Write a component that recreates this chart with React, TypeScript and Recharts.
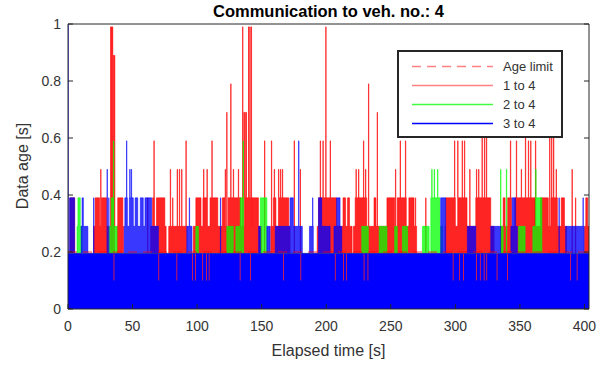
import React from 'react';
import { ComposedChart, Area, Line, XAxis, YAxis } from 'recharts';

const END = 403.5;
const X_TICKS = [0, 50, 100, 150, 200, 250, 300, 350, 400];
const Y_TICKS = [0, 0.2, 0.4, 0.6, 0.8, 1];
const AGE_LIMIT = 0.2;
const BASE = 0.195;

// 1 to 4: single spikes [time, age] and dense stretches [from, to, age]
const redSpikes = [
  [2.8, 0.39], [4.9, 0.39], [21.6, 0.39], [25.3, 0.49], [27.5, 0.39], [33, 0.99], [33.7, 0.99], [34.4, 0.99],
  [35.3, 0.89], [36, 0.89], [38.5, 0.39], [61.6, 0.39], [66.5, 0.59], [69.4, 0.39], [79.2, 0.49], [81, 0.39],
  [84.5, 0.49], [86.2, 0.49], [88, 0.49], [91.3, 0.59], [99.8, 0.39], [105, 0.49], [107.6, 0.49], [111.4, 0.59],
  [121.7, 0.49], [122.9, 0.69], [126, 0.79], [128, 0.49], [131.9, 0.49], [135.2, 0.99], [136.2, 0.69],
  [137, 0.69], [138, 0.69], [139.8, 0.99], [140.8, 0.99], [141.9, 0.99], [152.2, 0.59], [157.5, 0.59],
  [159.7, 0.49], [163, 0.49], [164.5, 0.49], [166, 0.49], [175.1, 0.59], [179.8, 0.49], [195.3, 0.59],
  [197.4, 0.59], [199.6, 0.99], [203, 0.59], [223, 0.49], [225, 0.49], [228.8, 0.59], [230.4, 0.49],
  [232.7, 0.79], [239.4, 0.69], [253.6, 0.49], [257.2, 0.59], [261.3, 0.59], [269, 0.39], [277, 0.39],
  [299.3, 0.59], [301.8, 0.59], [305.2, 0.59], [307, 0.59], [311.1, 0.49], [316.3, 0.49], [318, 0.49],
  [320.6, 0.69], [322.5, 0.69], [324, 0.69], [342.6, 0.59], [347.2, 0.59], [351, 0.49], [354.2, 0.69],
  [356.5, 0.59], [358.3, 0.59], [362, 0.59], [373, 0.69], [374.5, 0.69], [376, 0.69], [378, 0.49],
  [390.3, 0.49], [393, 0.39],
];
const redBlocks = [
  [1.5, 5, 0.39], [19.8, 31.6, 0.29], [21, 24.5, 0.39], [26, 30, 0.39], [38, 43, 0.29], [38.5, 42.5, 0.39],
  [64, 76, 0.29], [65.5, 67, 0.39], [68.5, 75, 0.39], [78, 92, 0.29], [97, 118, 0.29], [99, 103, 0.39],
  [104.5, 108, 0.39], [110, 116, 0.39], [118, 150, 0.29], [119.5, 122, 0.39], [124, 134, 0.39],
  [137, 142, 0.39], [142.4, 147.5, 0.39], [157, 172, 0.29], [159, 161, 0.39], [163, 171, 0.39],
  [193, 220, 0.29], [194, 208, 0.39], [213, 215, 0.39], [216.5, 218, 0.39], [221, 247, 0.29],
  [222.4, 231.4, 0.39], [237, 238.5, 0.39], [247, 270, 0.29], [247, 253, 0.39], [255, 262, 0.39],
  [264, 268, 0.39], [292, 330, 0.29], [292.5, 300, 0.39], [302, 309, 0.39], [315.8, 327.4, 0.39],
  [335, 386, 0.29], [337, 338.5, 0.39], [340.5, 343.5, 0.39], [346, 361.7, 0.39], [366, 372, 0.39],
  [374, 379, 0.39], [382, 384.5, 0.39], [400, 403.5, 0.29], [401, 402.5, 0.39],
];

// 2 to 4
const greenSpikes = [
  [35.2, 0.59], [135.6, 0.59], [281.7, 0.49], [283.6, 0.49], [286.2, 0.49], [335, 0.49], [339.5, 0.49],
  [362.2, 0.49],
];
const greenBlocks = [
  [7, 11, 0.29], [7.7, 9.5, 0.39], [31.6, 38, 0.29], [33.5, 35, 0.39], [99, 101, 0.29], [123, 128, 0.29],
  [130, 136, 0.29], [133.4, 136, 0.39], [149, 154, 0.39], [227.5, 232.6, 0.29], [241, 247, 0.29],
  [253, 255, 0.29], [259, 263, 0.29], [274.5, 279.7, 0.29], [281, 288, 0.39], [282, 290, 0.29],
  [335, 337, 0.29], [349, 354, 0.29], [360, 367, 0.29], [362, 367, 0.39],
];

// 3 to 4
const blueSpikes = [
  [0, 1], [19.8, 0.39], [30.2, 0.49], [31.5, 0.39], [45.3, 0.59], [47.8, 0.49], [49, 0.49], [93.9, 0.39],
  [118, 0.39], [178.6, 0.59], [189.4, 0.39], [380.2, 0.39], [398.8, 0.39],
];
const blueBlocks = [
  [1.2, 5.1, 0.39], [10.2, 15.4, 0.29], [10.9, 11.9, 0.39], [43.5, 70, 0.29], [44, 46, 0.39],
  [47.5, 50.6, 0.39], [52, 54, 0.39], [56, 58.3, 0.39], [59.6, 64.8, 0.39], [92, 96, 0.29],
  [147.6, 149, 0.29], [154, 156.5, 0.29], [160.5, 181.5, 0.29], [172, 174.5, 0.39], [187, 190, 0.29],
  [194, 203, 0.29], [194, 196.5, 0.39], [206, 212, 0.29], [208, 210.7, 0.39], [288.6, 292.5, 0.39],
  [309.3, 315.8, 0.29], [327.4, 335, 0.29], [343, 348, 0.29], [344, 346.7, 0.39], [385.4, 399.7, 0.29],
];
// moments where the 3 to 4 band drops to 0.1 s
const blueDips = [
  35.3, 70, 84, 96, 98.5, 104, 107, 109, 133, 141, 166.5, 180, 206.7, 213, 215.5, 229, 232, 298, 303, 306,
  316, 319, 322, 324, 332, 340, 389, 394,
];

const AXIS = '#262626';
const TXT = '#333333';
const FONT = '"Liberation Sans", Arial, Helvetica, sans-serif';

function buildSteps(spikes: number[][], blocks: number[][], base: number) {
  const ev = spikes.map(([t, v]) => [t, t + 0.3, v]).concat(blocks);
  const cuts = Array.from(new Set([0, END, ...ev.flatMap((e) => [e[0], e[1]])]))
    .filter((t) => t >= 0 && t <= END)
    .sort((a, b) => a - b);
  return cuts.map((t, i) => {
    let y = base;
    if (i < cuts.length - 1) {
      for (const [a, b, v] of ev) if (t >= a && t < b && v > y) y = v;
    }
    return { t, y };
  });
}

const redData = buildSteps(redSpikes, redBlocks, BASE);
const greenData = buildSteps(greenSpikes, greenBlocks, BASE);
const blueData = buildSteps(blueSpikes, blueBlocks, BASE);
const bandData = [{ t: 0, y: BASE }]
  .concat(blueDips.flatMap((t) => [{ t, y: 0.1 }, { t: t + 0.6, y: BASE }]))
  .concat([{ t: END, y: BASE }]);
const limitData = [{ t: 0, y: AGE_LIMIT }, { t: END, y: AGE_LIMIT }];

const BottomTick = ({ x, y, payload }: any) => (
  <g>
    <line x1={x} y1={y} x2={x} y2={y - 5} stroke={AXIS} />
    <text x={x} y={y + 22} textAnchor="middle" fontSize={14} fill={TXT} fontFamily={FONT}>
      {payload.value}
    </text>
  </g>
);
const TopTick = ({ x, y }: any) => <line x1={x} y1={y} x2={x} y2={y + 5} stroke={AXIS} />;
const LeftTick = ({ x, y, payload }: any) => (
  <g>
    <line x1={x} y1={y} x2={x + 5} y2={y} stroke={AXIS} />
    <text x={x - 7} y={y + 5} textAnchor="end" fontSize={14} fill={TXT} fontFamily={FONT}>
      {String(payload.value)}
    </text>
  </g>
);
const RightTick = ({ x, y }: any) => <line x1={x} y1={y} x2={x - 5} y2={y} stroke={AXIS} />;

const legendItems = [
  { name: 'Age limit', color: '#ff8080', dash: '9 6' },
  { name: '1 to 4', color: '#ff8080', dash: undefined },
  { name: '2 to 4', color: '#40ff40', dash: undefined },
  { name: '3 to 4', color: '#0000ff', dash: undefined },
];

export default function App() {
  return (
    <div style={{ position: 'absolute', left: 0, top: 0, width: 611, height: 367, background: '#fff' }}>
      <ComposedChart width={611} height={367} margin={{ top: 23, right: 21, bottom: 57, left: 67 }}>
        <XAxis
          dataKey="t"
          type="number"
          domain={[0, END]}
          ticks={X_TICKS}
          allowDataOverflow
          height={1}
          tickSize={0}
          tickMargin={0}
          tickLine={false}
          tick={<BottomTick />}
          stroke={AXIS}
          label={({ viewBox }: any) => (
            <text x={viewBox.x + viewBox.width / 2} y={356} textAnchor="middle" fontSize={16} fill={TXT} fontFamily={FONT}>
              Elapsed time [s]
            </text>
          )}
        />
        <XAxis
          xAxisId="top"
          orientation="top"
          type="number"
          domain={[0, END]}
          ticks={X_TICKS}
          allowDataOverflow
          height={1}
          tickSize={0}
          tickMargin={0}
          tickLine={false}
          tick={<TopTick />}
          stroke={AXIS}
          label={({ viewBox }: any) => (
            <text x={viewBox.x + viewBox.width / 2} y={17} textAnchor="middle" fontSize={16.5} fontWeight="bold" fill="#000" fontFamily={FONT}>
              Communication to veh. no.: 4
            </text>
          )}
        />
        <YAxis
          type="number"
          domain={[0, 1]}
          ticks={Y_TICKS}
          allowDataOverflow
          width={1}
          tickSize={0}
          tickMargin={0}
          tickLine={false}
          tick={<LeftTick />}
          stroke={AXIS}
          label={() => (
            <text x={22} y={166} transform="rotate(-90 22 166)" textAnchor="middle" dominantBaseline="central" fontSize={16} fill={TXT} fontFamily={FONT}>
              Data age [s]
            </text>
          )}
        />
        <YAxis
          yAxisId="right"
          orientation="right"
          type="number"
          domain={[0, 1]}
          ticks={Y_TICKS}
          allowDataOverflow
          width={1}
          tickSize={0}
          tickMargin={0}
          tickLine={false}
          tick={<RightTick />}
          stroke={AXIS}
        />
        <Line data={limitData} dataKey="y" stroke="#ff0000" strokeOpacity={0.5} strokeWidth={1.5} strokeDasharray="9 6" dot={false} isAnimationActive={false} />
        <Area data={redData} dataKey="y" type="stepAfter" stroke="#ff0000" strokeOpacity={0.55} strokeWidth={1} fill="#ff0000" fillOpacity={0.86} baseValue={0} isAnimationActive={false} />
        <Area data={greenData} dataKey="y" type="stepAfter" stroke="#00ff00" strokeOpacity={0.55} strokeWidth={1} fill="#00ff00" fillOpacity={0.75} baseValue={BASE} isAnimationActive={false} />
        <Area data={bandData} dataKey="y" type="stepAfter" stroke="none" fill="#0000ff" fillOpacity={1} baseValue={0} isAnimationActive={false} />
        <Area data={blueData} dataKey="y" type="stepAfter" stroke="#0000ff" strokeOpacity={0.5} strokeWidth={1} fill="#0000ff" fillOpacity={0.78} baseValue={BASE} isAnimationActive={false} />
      </ComposedChart>
      <div
        style={{
          position: 'absolute',
          left: 397,
          top: 50,
          width: 162,
          height: 84,
          border: `2px solid ${AXIS}`,
          background: '#fff',
          fontFamily: FONT,
          fontSize: 13,
          color: TXT,
        }}
      >
        {legendItems.map((it, i) => (
          <div key={it.name} style={{ position: 'absolute', left: 0, top: 5 + i * 19, height: 19, width: '100%' }}>
            <svg width={100} height={19} style={{ position: 'absolute', left: 0, top: 0 }}>
              <line x1={13} y1={9.5} x2={94} y2={9.5} stroke={it.color} strokeWidth={1.5} strokeDasharray={it.dash} />
            </svg>
            <span style={{ position: 'absolute', left: 104, top: 1, lineHeight: '17px' }}>{it.name}</span>
          </div>
        ))}
      </div>
    </div>
  );
}
